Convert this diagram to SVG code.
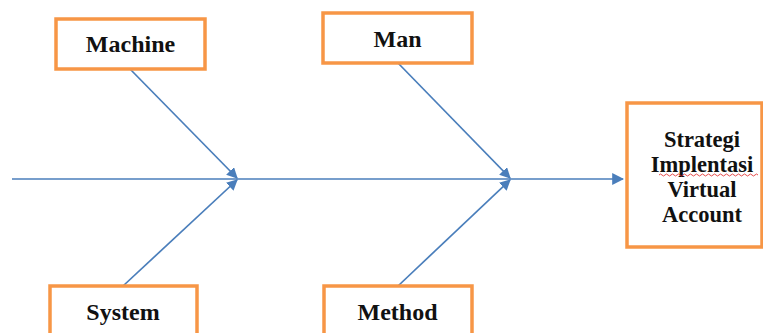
<svg xmlns="http://www.w3.org/2000/svg" width="763" height="333" viewBox="0 0 763 333">
<defs>
<marker id="ah" viewBox="0 0 10 10" refX="9" refY="5" markerWidth="11" markerHeight="11" markerUnits="userSpaceOnUse" orient="auto">
<path d="M0,0 L10,5 L0,10 z" fill="#4A7EBB"/>
</marker>
<marker id="ah2" viewBox="0 0 10 10" refX="9" refY="5" markerWidth="12" markerHeight="12" markerUnits="userSpaceOnUse" orient="auto">
<path d="M0,0 L10,5 L0,10 z" fill="#4A7EBB"/>
</marker>
</defs>
<style>
.box{fill:#fff;stroke:#F79646;stroke-width:3.5}
.lbl{font-family:"Liberation Serif","Times New Roman",serif;font-weight:bold;font-size:24px;fill:#111;text-anchor:middle}
.tgt{font-family:"Liberation Serif","Times New Roman",serif;font-weight:bold;font-size:22.5px;fill:#111;text-anchor:middle}
.ln{stroke:#4A7EBB;stroke-width:1.7;fill:none}
</style>
<rect width="763" height="333" fill="#fff"/>
<g id="connectors">
<line class="ln" x1="12" y1="179" x2="623" y2="179" marker-end="url(#ah2)"/>
<line class="ln" x1="130" y1="69" x2="237" y2="178" marker-end="url(#ah)"/>
<line class="ln" x1="123" y1="286" x2="237" y2="180" marker-end="url(#ah)"/>
<line class="ln" x1="398" y1="63" x2="510" y2="178" marker-end="url(#ah)"/>
<line class="ln" x1="398" y1="286" x2="510" y2="180" marker-end="url(#ah)"/>
</g>
<g id="machine">
<rect class="box" x="56" y="19" width="149" height="50"/>
<text class="lbl" x="130.5" y="52">Machine</text>
</g>
<g id="man">
<rect class="box" x="323" y="13" width="149" height="50"/>
<text class="lbl" x="397.5" y="47">Man</text>
</g>
<g id="system">
<rect class="box" x="50" y="286" width="147" height="52"/>
<text class="lbl" x="123" y="320">System</text>
</g>
<g id="method">
<rect class="box" x="324" y="286" width="148" height="52"/>
<text class="lbl" x="397.5" y="320">Method</text>
</g>
<g id="target">
<rect class="box" x="627" y="103" width="135" height="144"/>
<text class="tgt" x="702" y="147">Strategi</text>
<text class="tgt" x="702" y="172">Implentasi</text>
<path d="M659,175 q1.5,-2 3,0 t3,0 t3,0 t3,0 t3,0 t3,0 t3,0 t3,0 t3,0 t3,0 t3,0 t3,0 t3,0 t3,0 t3,0 t3,0 t3,0 t3,0 t3,0 t3,0 t3,0 t3,0 t3,0 t3,0 t3,0 t3,0 t3,0 t3,0 t3,0 t3,0 t3,0 t3,0 t3,0" fill="none" stroke="#E02020" stroke-width="0.8"/>
<text class="tgt" x="702" y="197">Virtual</text>
<text class="tgt" x="702" y="222">Account</text>
</g>
</svg>
